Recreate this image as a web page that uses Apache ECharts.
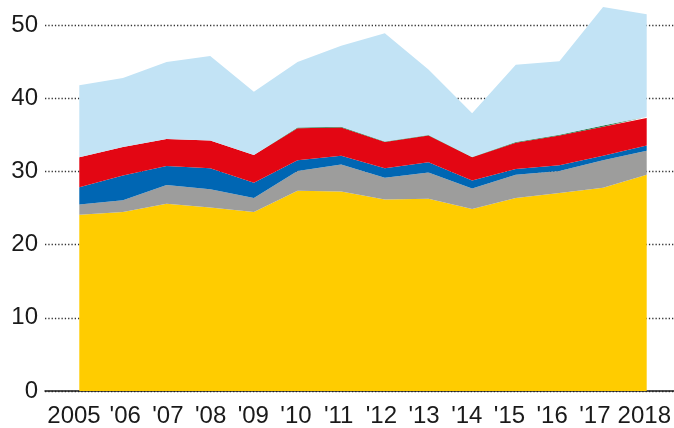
<!DOCTYPE html>
<html>
<head>
<meta charset="utf-8">
<script src="https://cdn.jsdelivr.net/npm/echarts@6/dist/echarts.min.js"></script>
<style>
  html, body { margin: 0; padding: 0; background: #fff; }
  #chart { width: 674px; height: 428px; }
</style>
</head>
<body>
<div id="chart"></div>
<script>
var years = ['2005', "'06", "'07", "'08", "'09", "'10", "'11", "'12", "'13", "'14", "'15", "'16", "'17", '2018'];

// stacked layers, bottom to top
var yellowData = [24.2, 24.6, 25.7, 25.2, 24.6, 27.5, 27.4, 26.3, 26.4, 25.0, 26.5, 27.2, 27.9, 29.7];
var grayData   = [1.4, 1.6, 2.6, 2.5, 1.9, 2.7, 3.7, 3.0, 3.6, 2.8, 3.2, 3.0, 3.8, 3.3];
var blueData   = [2.4, 3.4, 2.6, 2.9, 2.1, 1.5, 1.2, 1.3, 1.4, 1.1, 0.8, 0.8, 0.6, 0.7];
var redData    = [4.1, 3.9, 3.7, 3.8, 3.8, 4.4, 3.9, 3.6, 3.7, 3.2, 3.6, 4.1, 4.0, 3.8];
var greenData  = [0, 0, 0, 0, 0, 0.1, 0.1, 0.05, 0.05, 0.05, 0.1, 0.1, 0.15, 0.15];
var skyData    = [9.9, 9.5, 10.6, 11.6, 8.7, 9.0, 11.1, 14.9, 9.0, 6.0, 10.6, 10.1, 16.3, 14.1];

var textColor = '#1a1a1a';
var font = 'Liberation Sans';

function layer(name, arr, color) {
    return {
        name: name,
        type: 'line',
        stack: 'total',
        xAxisIndex: 0,
        yAxisIndex: 0,
        data: arr,
        showSymbol: false,
        silent: true,
        lineStyle: { width: 0 },
        areaStyle: { color: color, opacity: 1 },
        itemStyle: { color: color }
    };
}

var labelText = { color: textColor, fontFamily: font, fontSize: 24 };

var myChart = echarts.init(document.getElementById('chart'));

var option = {
    animation: false,
    grid: [
        // data area
        { left: 79.3, right: 27.3, top: -2, bottom: 37 },
        // frame for gridlines, y labels and baseline
        { left: 45, right: 0, top: 25, bottom: 37 },
        // year labels (spaced a little tighter than the data points)
        { left: 82.5, right: 35.75, top: 25, bottom: 37 }
    ],
    xAxis: [
        {
            type: 'category',
            gridIndex: 0,
            data: years,
            boundaryGap: false,
            axisLine: { show: false },
            axisTick: { show: false },
            axisLabel: { show: false }
        },
        {
            type: 'value',
            gridIndex: 1,
            min: 0,
            max: 1,
            axisLine: { show: true, lineStyle: { color: textColor, width: 1.5 } },
            axisTick: { show: false },
            axisLabel: { show: false },
            splitLine: { show: false }
        },
        {
            type: 'category',
            gridIndex: 2,
            data: years,
            boundaryGap: false,
            axisLine: { show: false },
            axisTick: { show: false },
            axisLabel: {
                interval: 0,
                margin: 24,
                color: textColor,
                fontFamily: font,
                fontSize: 24,
                formatter: function (v) {
                    if (v === '2005') return '{l|' + v + '}';
                    if (v === '2018') return '{r|' + v + '}';
                    return '{n|' + v + '}';
                },
                rich: {
                    n: labelText,
                    l: Object.assign({ padding: [0, 17, 0, 0] }, labelText),
                    r: Object.assign({ padding: [0, 0, 0, 13.5] }, labelText)
                }
            }
        }
    ],
    yAxis: [
        {
            type: 'value',
            gridIndex: 0,
            min: 0,
            max: 53.7,
            show: false,
            splitLine: { show: false }
        },
        {
            type: 'value',
            gridIndex: 1,
            min: 0,
            max: 50,
            interval: 10,
            axisLine: { show: false },
            axisTick: { show: false },
            axisLabel: {
                margin: 7,
                color: textColor,
                fontFamily: font,
                fontSize: 24
            },
            splitLine: {
                show: true,
                lineStyle: { color: '#333', width: 1.3, type: [1.3, 2] }
            }
        },
        {
            type: 'value',
            gridIndex: 2,
            min: 0,
            max: 50,
            show: false,
            splitLine: { show: false }
        }
    ],
    series: [
        layer('yellow', yellowData, '#ffcc00'),
        layer('gray', grayData, '#9d9d9c'),
        layer('blue', blueData, '#0066b3'),
        layer('red', redData, '#e30613'),
        layer('green', greenData, '#2e7d4f'),
        layer('sky', skyData, '#c2e3f5')
    ]
};

myChart.setOption(option);
</script>
</body>
</html>
